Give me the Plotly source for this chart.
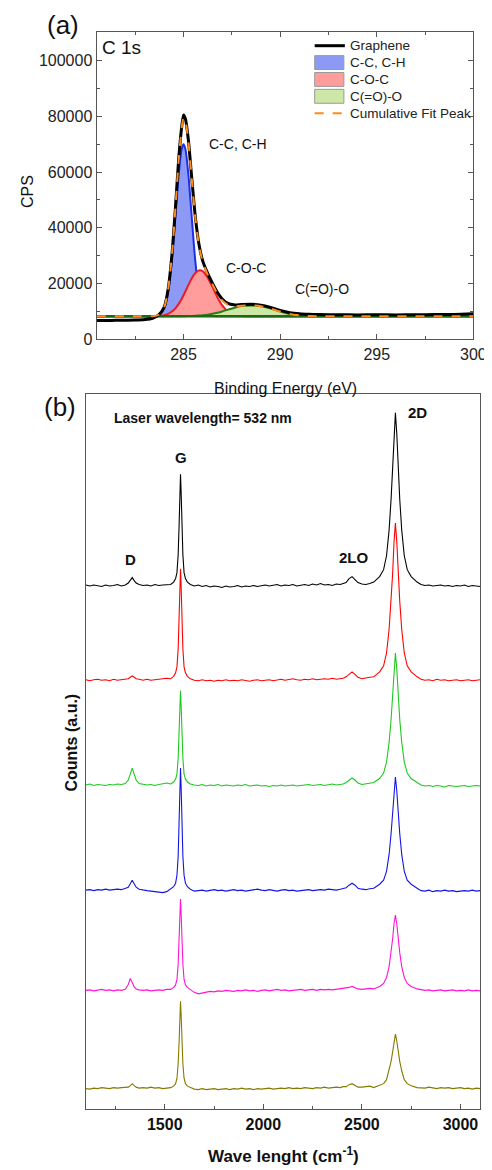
import plotly.graph_objects as go

# ---------------- Panel (a): XPS C 1s ----------------
xps_energy = [280.5, 281, 281.5, 282, 282.5, 283, 283.4, 283.7, 284.0, 284.2, 284.4, 284.6, 284.75, 284.9,
              285.0, 285.1, 285.25, 285.4, 285.6, 285.8, 286.0, 286.25, 286.5, 286.75, 287.0, 287.3, 287.6,
              288.0, 288.5, 289.0, 289.5, 290.0, 290.5, 291.0, 291.5, 292, 293, 294, 295, 296, 297, 298, 299, 300]
xps_graphene = [6800, 6800, 6850, 6900, 6950, 7150, 7600, 8700, 11600, 17900, 30500, 49300, 64800, 76000,
                80500, 79000, 71500, 59800, 44600, 34000, 28000, 23700, 20100, 16900, 14500, 12900, 12400,
                12500, 12600, 12300, 11500, 10400, 9600, 9200, 9000, 8900, 8850, 8800, 8850, 8800, 8850, 8900, 8950, 9200]
xps_cc = [8300, 8300, 8300, 8300, 8300, 8300, 8300, 8650, 11150, 16940, 28700, 46040, 59200, 68140,
          70000, 68140, 59200, 46040, 28700, 16940, 11150, 8810, 8360, 8300, 8300, 8300, 8300,
          8300, 8300, 8300, 8300, 8300, 8300, 8300, 8300, 8300, 8300, 8300, 8300, 8300, 8300, 8300, 8300, 8300]
xps_coc = [8300, 8300, 8300, 8300, 8300, 8300, 8325, 8410, 8705, 9165, 9990, 11340, 12750, 14510,
           15845, 17270, 19470, 21550, 23720, 24760, 24400, 22170, 18740, 15160, 12240, 9990, 8900,
           8410, 8310, 8300, 8300, 8300, 8300, 8300, 8300, 8300, 8300, 8300, 8300, 8300, 8300, 8300, 8300, 8300]
xps_cooo = [8300, 8300, 8300, 8300, 8300, 8300, 8300, 8300, 8300, 8300, 8300, 8310, 8320, 8328,
            8334, 8345, 8370, 8400, 8460, 8544, 8668, 8887, 9187, 9578, 10047, 10675, 11300,
            11950, 12185, 11900, 11100, 10000, 9150, 8650, 8410, 8330, 8300, 8300, 8300, 8300, 8300, 8300, 8300, 8300]
xps_fit = [8300, 8300, 8300, 8300, 8300, 8300, 8325, 8755, 11555, 17805, 30390, 49090, 64500, 75500,
           79500, 78300, 71000, 59390, 44280, 33645, 27620, 23270, 19690, 16440, 13990, 12365, 11900,
           12060, 12190, 11900, 11100, 10000, 9150, 8650, 8410, 8330, 8300, 8300, 8300, 8300, 8300, 8300, 8300, 8300]
fit_baseline_energy = [280.5, 300]
fit_baseline_cps = [8300, 8300]
xps_legend_labels = ["Graphene", "C-C, C-H", "C-O-C", "C(=O)-O", "Cumulative Fit Peak"]

# ---------------- Panel (b): Raman ----------------
raman_shift = [1100, 1120, 1140, 1160, 1180, 1200, 1220, 1240, 1260, 1280, 1300,
               1315, 1325, 1335, 1345, 1355, 1370,
               1390, 1410, 1430, 1450, 1470, 1490, 1510,
               1530, 1545, 1555, 1562, 1568, 1573, 1577, 1580, 1583, 1587, 1592, 1598, 1605, 1615, 1630,
               1650, 1670, 1690, 1710, 1730, 1750, 1770, 1790, 1810, 1830, 1850, 1870, 1890, 1910, 1930,
               1950, 1970, 1990, 2010, 2030, 2050, 2070, 2090, 2110, 2130, 2150, 2170, 2190, 2210, 2230,
               2250, 2270, 2290, 2310, 2330, 2350, 2370, 2390, 2405,
               2420, 2435, 2450, 2465, 2480,
               2500, 2520, 2540,
               2560, 2590, 2610, 2625, 2638, 2648, 2656, 2663, 2670, 2677, 2684, 2692, 2702, 2715, 2730, 2750, 2780,
               2800, 2820, 2840, 2860, 2880, 2900, 2920, 2940, 2960, 2980, 3000, 3020, 3040, 3060, 3080, 3100]

raman_black = [0.5, -0.5, 0.5, 0, -1, 0.5, -0.5, 0, 1, -0.5, 0.5,
               2.5, 5, 8, 5, 2.5, 1,
               0, 0.5, -0.5, 1, 0, 0.5, 1,
               1, 3.5, 7, 13, 31, 62, 95, 112, 95, 62, 31, 13, 7, 3.5, 1,
               -0.5, 0.5, -1, 0, -1.5, -0.5, -1, -2, -0.5, -1.5, -1, 0, -1.5, -0.5, -1,
               0, -1, -0.5, 0.5, -0.5, 0, 1, -0.5, 0.5, 0, 1, -0.5, 0.5, 1, 0,
               1.5, 0.5, 2, 0.5, 1, 0, 1.5, 1, 2,
               3, 7, 9, 6, 3,
               1.5, 1, 2,
               3.5, 9, 16, 30, 56, 87, 118, 153, 174, 153, 118, 87, 56, 30, 16, 9, 3.5,
               1, 0, 0.5, -0.5, 0, 0.5, -0.5, 0, -1, 0, -0.5, 0.5, -1, 0, -0.5, -1]
raman_red = [0, -1, 0, 0.5, -0.5, 0, -1, 0.5, -0.5, 0, 0.5,
             1, 2.5, 4, 2.5, 1, 0.5,
             -0.5, 0.5, -0.5, 0, 0.5, 1, 1.5,
             1, 3.5, 7, 13, 31, 62, 95, 112, 95, 62, 31, 13, 7, 3.5, 1,
             -0.5, -1, 0, -1, -0.5, -1.5, -0.5, -1, 0, -1, -0.5, -1, 0, -0.5, -1.5,
             -0.5, 0, -1, -0.5, 0, -1, 0, 0.5, -0.5, 0, 1, 0, -0.5, 0.5, 0,
             1, 0, 0.5, 1, 0.5, 1.5, 0.5, 1, 1.5,
             3, 6, 8, 5.5, 2.5,
             1, 2, 2.5,
             3, 8, 14, 27, 51, 79, 107, 139, 158, 139, 107, 79, 51, 27, 14, 8, 3,
             0.5, -0.5, 0, -1, 0.5, -0.5, 0, -1, -0.5, 0, -1, -0.5, 0, -1, -0.5, 0]
raman_green = [0, 1, -0.5, 0.5, 0, -0.5, 0.5, 0, 1, 0.5, 1.5,
               5, 11, 17, 11, 5, 1.5,
               0.5, 0, 0.5, -0.5, 0.5, 1, 2,
               1, 3, 6, 11, 27, 52, 81, 95, 81, 52, 27, 11, 6, 3, 1,
               0, -0.5, 0.5, -1, 0, -0.5, 0.5, -1, 0, -0.5, -1, 0, -0.5, 0.5, -1,
               -0.5, 0, -1, -0.5, -1.5, -0.5, -1, 0, -1, -0.5, 0, -1, -0.5, 0, 0.5,
               -0.5, 0, 0.5, -0.5, 0, 1, 0, 0.5, 1,
               2.5, 5, 7, 5, 2,
               0.5, 1, 1.5,
               2.5, 6.5, 12, 23, 43, 66, 90, 117, 133, 117, 90, 66, 43, 23, 12, 6.5, 2.5,
               0, -1, -0.5, -1.5, -0.5, -1, -2, -0.5, -1, -1.5, -1, -0.5, -1.5, -1, -0.5, -1]
raman_blue = [0, 0.5, -0.5, 0.5, 0, 1, 0, 0.5, 1, 0.5, 1.5,
              3, 6.5, 10, 6.5, 3, 1,
              0, -0.5, -1, -1.5, -2, -2.5, -1.5,
              1, 3.5, 7, 15, 34, 68, 105, 123, 105, 68, 34, 15, 7, 3.5, 1,
              -1, -0.5, 0, -1, -0.5, 0.5, -0.5, 0, -1, 0, 0.5, -0.5, 0, -1, -0.5,
              0, 1, 0, -0.5, 0.5, 0, -1, 0, 0.5, -0.5, 0, -1, -0.5, 0, 0.5,
              -0.5, 0, 0.5, 0, 1, 0.5, 0, 1, 1.5,
              2.5, 5, 7, 5, 2,
              1, 0.5, 1.5,
              2, 6, 10, 19, 36, 57, 78, 100, 114, 100, 78, 57, 36, 19, 10, 6, 2,
              -0.5, -1, 0, -1.5, -0.5, -1, 0, -1, -0.5, -1.5, -1, -0.5, -1, 0, -1, -0.5]
raman_magenta = [0, 0.5, -0.5, 0, 1, 0, 0.5, -0.5, 0.5, 0, 1,
                 6, 12, 8, 3.5, 1.5, 0.5,
                 0, 0.5, -0.5, 0, 0.5, 0, 1,
                 1, 3, 5.5, 11, 26, 51, 78, 92, 78, 51, 26, 11, 5.5, 3, 1,
                 -2, -3.5, -2.5, -2, -1, -1.5, -0.5, -1, 0, -0.5, -1, 0, -0.5, 0.5, -0.5,
                 0, -1, 0, 0.5, -0.5, 0, 1, 0, 0.5, -0.5, 0, 0.5, 1, 0, 0.5,
                 1, 0, 1, 0.5, 1, 0.5, 1, 1.5, 2,
                 2, 3, 4, 3, 1.5,
                 1, 1.5, 2,
                 1.5, 4, 7, 13, 24, 38, 52, 67, 76, 67, 52, 38, 24, 13, 7, 4, 1.5,
                 1, 0, 0.5, -0.5, 0, 0.5, -0.5, 0, 0.5, -0.5, 0, -0.5, 0.5, -0.5, 0, -0.5]
raman_olive = [0, -0.5, 0.5, 0, 1, 0.5, 0, 1, 0.5, 1, 1.5,
               1.5, 3, 5, 3, 1.5, 0.5,
               1, 0.5, 1.5, 0.5, 1, 0, 0.5,
               1, 2.5, 5, 10.5, 25, 48, 75, 88, 75, 48, 25, 10.5, 5, 2.5, 1,
               -0.5, -1, 0, -1, -0.5, 0, -1, -0.5, 0, -1, 0, -0.5, 0.5, -0.5, 0,
               -1, 0, -0.5, 0, 0.5, -0.5, 0, 0.5, 0, 1, 0, 0.5, 0, 1, 0.5,
               0, 1, 0.5, 1.5, 0.5, 1, 1.5, 1, 2,
               2, 4, 5, 3, 1.5,
               1.5, 2, 2.5,
               1, 3, 5, 9, 18, 27.5, 37, 48, 55, 48, 37, 27.5, 18, 9, 5, 3, 1,
               1, 0.5, 1.5, 0.5, 0, 1, 0.5, 1, 0, 0.5, 1, 0, 0.5, -0.5, 0.5, 0]
raman_series = [raman_black, raman_red, raman_green, raman_blue, raman_magenta, raman_olive]
raman_offsets = [528, 433, 327, 221, 120, 21]
raman_colors = ["#000000", "#ff0000", "#1ec81e", "#1414e6", "#ff14d6", "#857a00"]

for s in raman_series:
    assert len(s) == len(raman_shift), len(s)
for s in [xps_graphene, xps_cc, xps_coc, xps_cooo, xps_fit]:
    assert len(s) == len(xps_energy), len(s)

W, H = 492, 1170
def px(x):
    return x / W
def py(y):
    return 1 - y / H

FONT = "Liberation Sans, Arial, sans-serif"
fig = go.Figure()

BLUE_L, BLUE_F = "#1f2fe6", "#8c9af6"
RED_L, RED_F = "#ee1b22", "#ff9d9d"
GRN_L, GRN_F = "#2d7a16", "#cde7a6"
ORANGE = "#ff8c1a"

comp = [
    ("C-C, C-H", xps_cc, BLUE_L, BLUE_F),
    ("C-O-C", xps_coc, RED_L, RED_F),
    ("C(=O)-O", xps_cooo, GRN_L, GRN_F),
]
for name, vals, lc, fc in comp:
    fig.add_trace(go.Scatter(x=fit_baseline_energy, y=fit_baseline_cps, mode="lines",
                             line=dict(width=0, color=fc), showlegend=False, hoverinfo="skip",
                             xaxis="x", yaxis="y"))
    fig.add_trace(go.Scatter(x=xps_energy, y=vals, mode="lines", name=name, fill="tonexty",
                             fillcolor=fc, line=dict(color=lc, width=2, shape="spline", smoothing=0.7),
                             showlegend=False, xaxis="x", yaxis="y"))
fig.add_trace(go.Scatter(x=fit_baseline_energy, y=fit_baseline_cps, mode="lines",
                         line=dict(color="#1d6a12", width=2.5), showlegend=False, xaxis="x", yaxis="y"))
fig.add_trace(go.Scatter(x=xps_energy, y=xps_graphene, mode="lines", name="Graphene",
                         line=dict(color="black", width=3, shape="spline", smoothing=0.7),
                         showlegend=False, xaxis="x", yaxis="y"))
fig.add_trace(go.Scatter(x=xps_energy, y=xps_fit, mode="lines", name="Cumulative Fit Peak",
                         line=dict(color=ORANGE, width=2, dash="dash", shape="spline", smoothing=0.7),
                         showlegend=False, xaxis="x", yaxis="y"))

for vals, off, col in zip(raman_series, raman_offsets, raman_colors):
    fig.add_trace(go.Scatter(x=raman_shift, y=[off + v for v in vals], mode="lines",
                             line=dict(color=col, width=1.1), showlegend=False,
                             xaxis="x2", yaxis="y2"))

axcol = "#555555"
tf = dict(family=FONT, size=16, color="#222222")
tfb = dict(family=FONT, size=16, color="#111111", weight="bold")

fig.update_layout(
    width=W, height=H, margin=dict(l=0, r=0, t=0, b=0),
    paper_bgcolor="white", plot_bgcolor="white",
    font=dict(family=FONT, color="#222222"),
    showlegend=False,
    xaxis=dict(domain=[px(91), px(478)], range=[280.5, 300], anchor="y",
               tickmode="linear", tick0=285, dtick=5, ticks="inside", ticklen=5,
               tickcolor=axcol, showline=True, linecolor=axcol, linewidth=1.2, mirror="ticks",
               minor=dict(ticks="inside", ticklen=3, dtick=2.5, tick0=280, tickcolor=axcol),
               showgrid=False, zeroline=False, tickfont=tf),
    yaxis=dict(domain=[py(334), py(24)], range=[0, 110300], anchor="x",
               tickmode="linear", tick0=0, dtick=20000, tickformat="d", ticks="inside", ticklen=5,
               tickcolor=axcol, showline=True, linecolor=axcol, linewidth=1.2, mirror="ticks",
               minor=dict(ticks="inside", ticklen=3, dtick=10000, tickcolor=axcol),
               showgrid=False, zeroline=False, tickfont=tf),
    xaxis2=dict(domain=[px(80), px(485)], range=[1100, 3100], anchor="y2",
                tickmode="linear", tick0=1000, dtick=500, ticks="inside", ticklen=5,
                tickcolor=axcol, showline=True, linecolor=axcol, linewidth=1.2, mirror=True,
                minor=dict(ticks="inside", ticklen=3, dtick=250, tickcolor=axcol),
                showgrid=False, zeroline=False, tickfont=tfb),
    yaxis2=dict(domain=[py(1110), py(389)], range=[0, 721], anchor="x2",
                showticklabels=False, ticks="", showline=True, linecolor=axcol, linewidth=1.2,
                mirror=True, showgrid=False, zeroline=False),
)

# ---- legend for panel (a), drawn as shapes + text ----
leg_rows = [38, 55, 72, 89, 106]
sx0, sx1 = 315, 346
# Graphene line
fig.add_shape(type="line", xref="paper", yref="paper", x0=px(sx0), x1=px(sx1),
              y0=py(leg_rows[0]), y1=py(leg_rows[0]), line=dict(color="black", width=3))
# filled boxes
for row, lc, fc in zip(leg_rows[1:4], [BLUE_L, RED_L, GRN_L], [BLUE_F, RED_F, GRN_F]):
    fig.add_shape(type="rect", xref="paper", yref="paper", x0=px(sx0), x1=px(sx1 - 1),
                  y0=py(row + 7), y1=py(row - 7), fillcolor=fc,
                  line=dict(color="#9a9a9a", width=1))
# cumulative dashed line
fig.add_shape(type="line", xref="paper", yref="paper", x0=px(sx0), x1=px(sx1),
              y0=py(leg_rows[4]), y1=py(leg_rows[4]), line=dict(color=ORANGE, width=2, dash="dash"))
for row, lab in zip(leg_rows, xps_legend_labels):
    fig.add_annotation(text=lab, x=px(349), y=py(row), xref="paper", yref="paper",
                       xanchor="left", yanchor="middle", showarrow=False,
                       font=dict(family=FONT, size=13.5, color="#222222"))

ann = [
    ("(a)", 57, 17, 26, "normal", 0),
    ("(b)", 53, 402, 26, "normal", 0),
    ("C 1s", 117, 40, 19, "normal", 0),
    ("C-C, C-H", 236, 137, 14, "normal", 0),
    ("C-O-C", 244, 262, 14, "normal", 0),
    ("C(=O)-O", 323, 283, 14, "normal", 0),
    ("Binding Energy (eV)", 285, 383, 16, "normal", 0),
    ("CPS", 20, 185, 16, "normal", -90),
    ("Laser wavelength= 532 nm", 200, 413, 14, "bold", 0),
    ("G", 178, 453, 15, "bold", 0),
    ("D", 126, 556, 15, "bold", 0),
    ("2LO", 355, 554, 15, "bold", 0),
    ("2D", 421, 408, 15, "bold", 0),
    ("Counts (a.u.)", 65, 740, 16, "bold", -90),
    ("Wave lenght (cm<sup>-1</sup>)", 283, 1156, 17, "bold", 0),
]
for text, x, y, size, weight, ang in ann:
    fig.add_annotation(text=text, x=px(x), y=py(y), xref="paper", yref="paper",
                       xanchor="center", yanchor="middle", showarrow=False, textangle=ang,
                       font=dict(family=FONT, size=size, color="#111111", weight=weight))

fig.write_html("out.html")
